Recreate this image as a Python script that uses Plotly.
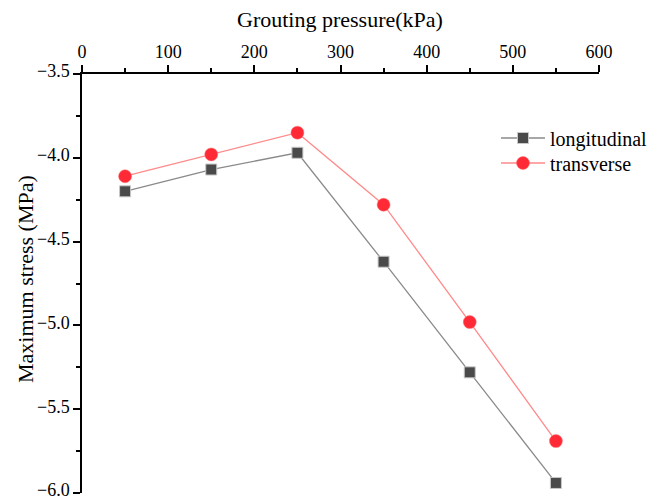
import plotly.graph_objects as go

pressure = [50, 150, 250, 350, 450, 550]
longitudinal = [-4.20, -4.07, -3.97, -4.62, -5.28, -5.94]
transverse = [-4.11, -3.98, -3.85, -4.28, -4.98, -5.69]

FONT = "Liberation Serif"

# page is rendered with an 8px body margin; size the figure to fill the window
OFF = 8
W, H = 655 - OFF, 499 - OFF
L, R, T, B = 82 - OFF, 56, 74 - OFF, 6
PW, PH = W - L - R, H - T - B


def px(xpage):
    return (xpage - OFF - L) / PW


def py(ypage):
    return (H - B - (ypage - OFF)) / PH


fig = go.Figure()
fig.add_trace(go.Scatter(
    x=pressure, y=longitudinal, name="longitudinal", mode="lines+markers", legend="legend",
    line=dict(color="#8a8a8a", width=1.3),
    marker=dict(symbol="square", size=11, color="#4a4a4a", line=dict(color="#c8c8c8", width=1)),
))
fig.add_trace(go.Scatter(
    x=pressure, y=transverse, name="transverse", mode="lines+markers", legend="legend2",
    line=dict(color="#ff8a8a", width=1.3),
    marker=dict(symbol="circle", size=13, color="#ff2a35", line=dict(color="#ff7070", width=0.5)),
))

leg_common = dict(xanchor="left", yanchor="middle", font=dict(family=FONT, size=20),
                  bgcolor="rgba(0,0,0,0)", itemwidth=44, borderwidth=0)

fig.update_layout(
    width=W, height=H,
    margin=dict(l=L, r=R, t=T, b=B, autoexpand=False),
    paper_bgcolor="white", plot_bgcolor="white",
    font=dict(family=FONT, size=18, color="black"),
    showlegend=True,
    legend=dict(x=px(496), y=py(138), **leg_common),
    legend2=dict(x=px(496), y=py(163), **leg_common),
    xaxis=dict(
        side="top", range=[0, 600], tickvals=[0, 100, 200, 300, 400, 500, 600],
        showgrid=False, zeroline=False, showline=True, linecolor="black", linewidth=1.5,
        ticks="outside", ticklen=7, tickwidth=1.5, tickcolor="black", automargin=False,
        ticklabeloverflow="allow",
        minor=dict(tickvals=[50, 150, 250, 350, 450, 550], ticks="outside", ticklen=4, tickwidth=1.5, tickcolor="black"),
        tickfont=dict(family=FONT, size=18),
    ),
    yaxis=dict(
        range=[-6.0, -3.5], tickvals=[-6.0, -5.5, -5.0, -4.5, -4.0, -3.5], tickformat=".1f",
        showgrid=False, zeroline=False, showline=True, linecolor="black", linewidth=1.5,
        ticks="outside", ticklen=7, tickwidth=1.5, tickcolor="black", automargin=False,
        ticklabeloverflow="allow", ticklabelshift=-3,
        minor=dict(tickvals=[-5.75, -5.25, -4.75, -4.25, -3.75], ticks="outside", ticklen=4, tickwidth=1.5, tickcolor="black"),
        tickfont=dict(family=FONT, size=18),
    ),
    annotations=[
        dict(text="Grouting pressure(kPa)", x=px(340), y=py(20), xref="paper", yref="paper",
             showarrow=False, font=dict(family=FONT, size=22), xanchor="center", yanchor="middle"),
        dict(text="Maximum stress (MPa)", x=px(25), y=py(279), xref="paper", yref="paper",
             showarrow=False, font=dict(family=FONT, size=22), textangle=-90,
             xanchor="center", yanchor="middle"),
    ],
)

fig.write_html("out.html")
